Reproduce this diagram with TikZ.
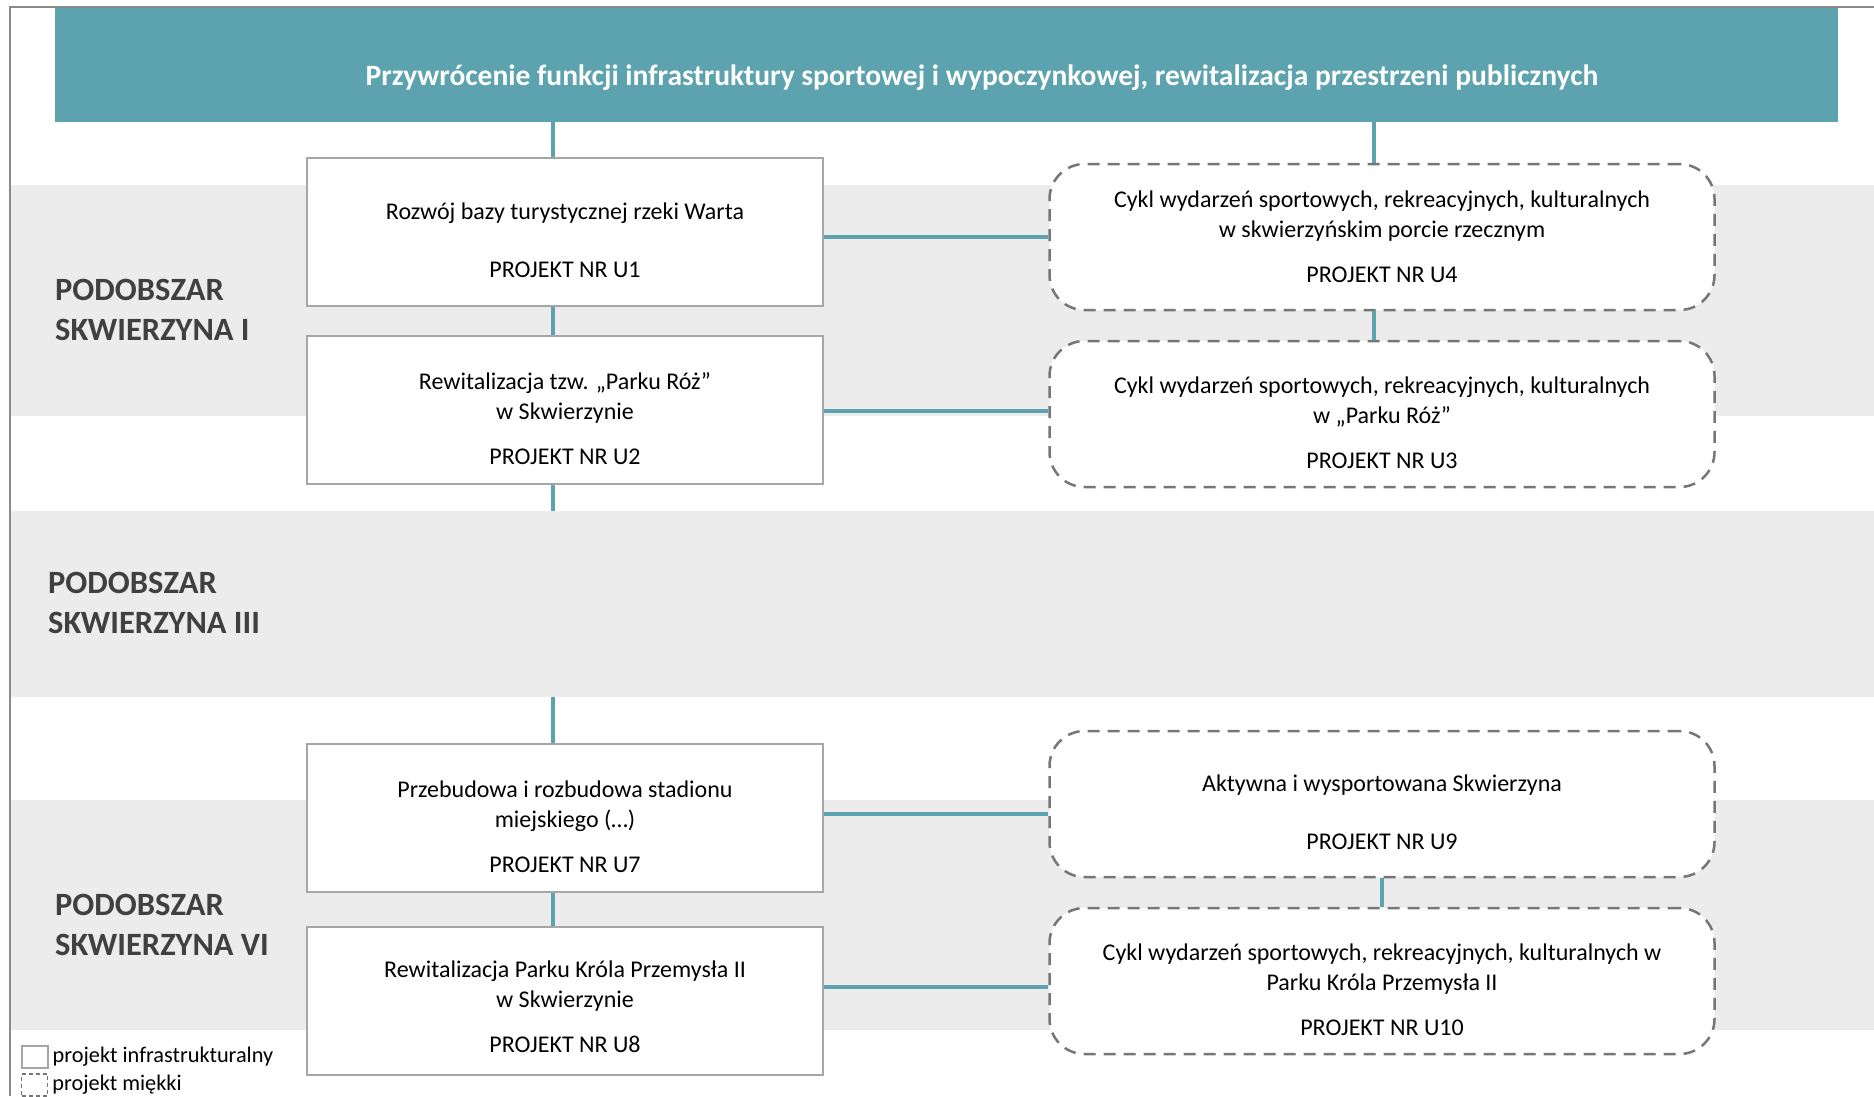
\documentclass[tikz,border=0pt]{standalone}
\usepackage{fontspec}
\setmainfont{Carlito}
\definecolor{headteal}{RGB}{92,163,175}
\definecolor{bandgray}{RGB}{236,236,236}
\definecolor{boxgray}{RGB}{166,166,166}
\definecolor{dashgray}{RGB}{118,118,118}
\definecolor{labelgray}{RGB}{64,64,64}
\definecolor{framegray}{RGB}{138,138,138}
\newcommand{\firstline}{\rule{0pt}{34pt}}
\begin{document}
\begin{tikzpicture}[x=1pt, y=-1pt,
  infra/.style={rectangle, draw=boxgray, line width=2.5pt, fill=white, minimum width=516pt, minimum height=148pt, inner sep=0pt, align=center, font=\fontsize{24}{30}\selectfont},
  soft/.style={rectangle, rounded corners=35pt, draw=dashgray, dash pattern=on 12pt off 8pt, line width=2.5pt, fill=white, minimum width=665pt, minimum height=146pt, inner sep=0pt, align=center, font=\fontsize{24}{30}\selectfont},
  link/.style={draw=headteal, line width=4pt},
  area/.style={anchor=west, inner sep=0pt, align=left, text=labelgray, font=\bfseries\fontsize{32.5}{40}\selectfont},
  legend/.style={anchor=west, inner sep=4pt, font=\fontsize{22.3}{26}\selectfont}]

\useasboundingbox (0,0) rectangle (1874,1096);

\begin{scope}
\foreach \ya/\yb in {185/416, 511/697, 800/1030} {
  \fill[bandgray] (11,\ya) rectangle (1874,\yb);
}
\draw[framegray, line width=2.5pt] (10,1096) -- (10,7) -- (1874,7);

\node[fill=headteal, minimum width=1783pt, minimum height=114pt, inner sep=0pt] (goal) at (946.5,65) {};
\node[anchor=base, inner sep=0pt, text=white, font=\bfseries\fontsize{29.5}{34}\selectfont] (goalText) at (982,85) {Przywrócenie funkcji infrastruktury sportowej i wypoczynkowej, rewitalizacja przestrzeni publicznych};

\node[area] (sub1) at (55,310) {PODOBSZAR\\SKWIERZYNA I};
\node[area] (sub3) at (48,603) {PODOBSZAR\\SKWIERZYNA III};
\node[area] (sub6) at (55,925) {PODOBSZAR\\SKWIERZYNA VI};

\node[infra] (u1) at (565,232) {\firstline Rozwój bazy turystycznej rzeki Warta\\[28pt]PROJEKT NR U1};
\node[infra] (u2) at (565,410) {\firstline Rewitalizacja tzw. „Parku Róż”\\w Skwierzynie\\[15pt]PROJEKT NR U2};
\node[infra] (u7) at (565,818) {\firstline Przebudowa i rozbudowa stadionu\\miejskiego (…)\\[15pt]PROJEKT NR U7};
\node[infra] (u8) at (565,1001) {\rule{0pt}{28pt}Rewitalizacja Parku Króla Przemysła II\\w Skwierzynie\\[15pt]PROJEKT NR U8};

\node[soft] (u4) at (1382,237) {Cykl wydarzeń sportowych, rekreacyjnych, kulturalnych\\w skwierzyńskim porcie rzecznym\\[15pt]PROJEKT NR U4};
\node[soft] (u3) at (1382,414) {\firstline Cykl wydarzeń sportowych, rekreacyjnych, kulturalnych\\w „Parku Róż”\\[15pt]PROJEKT NR U3};
\node[soft] (u9) at (1382,804) {\firstline Aktywna i wysportowana Skwierzyna\\[28pt]PROJEKT NR U9};
\node[soft] (u10) at (1382,981) {\firstline Cykl wydarzeń sportowych, rekreacyjnych, kulturalnych w\\Parku Króla Przemysła II\\[15pt]PROJEKT NR U10};

\coordinate (spineL) at (553,0);
\coordinate (spineR) at (1374,0);
\coordinate (gapTop) at (553,511);
\coordinate (gapBot) at (553,697);
\coordinate (row1) at (0,237);
\coordinate (row2) at (0,411);
\coordinate (row7) at (0,814);
\coordinate (row8) at (0,987);

\draw[link] (goal.south -| spineL) -- (u1.north -| spineL);
\draw[link] (u1.south -| spineL) -- (u2.north -| spineL);
\draw[link] (u2.south -| spineL) -- (gapTop);
\draw[link] (gapBot) -- (u7.north -| spineL);
\draw[link] (u7.south -| spineL) -- (u8.north -| spineL);

\draw[link] (goal.south -| spineR) -- (u4.north -| spineR);
\draw[link] (u4.south -| spineR) -- (u3.north -| spineR);
\draw[link] (u9.south) -- (u10.north);

\draw[link] (u1.east |- row1) -- (u4.west |- row1);
\draw[link] (u2.east |- row2) -- (u3.west |- row2);
\draw[link] (u7.east |- row7) -- (u9.west |- row7);
\draw[link] (u8.east |- row8) -- (u10.west |- row8);

\node[draw=boxgray, line width=2pt, minimum width=26pt, minimum height=22pt, inner sep=0pt] (keyInfra) at (34.5,1057) {};
\node[legend] (keyInfraText) at (keyInfra.east) {projekt infrastrukturalny};
\node[draw=dashgray, line width=1.5pt, dash pattern=on 4pt off 3pt, minimum width=26pt, minimum height=22pt, inner sep=0pt] (keySoft) at (34.5,1085) {};
\node[legend] (keySoftText) at (keySoft.east) {projekt miękki};
\end{scope}
\end{tikzpicture}
\end{document}
